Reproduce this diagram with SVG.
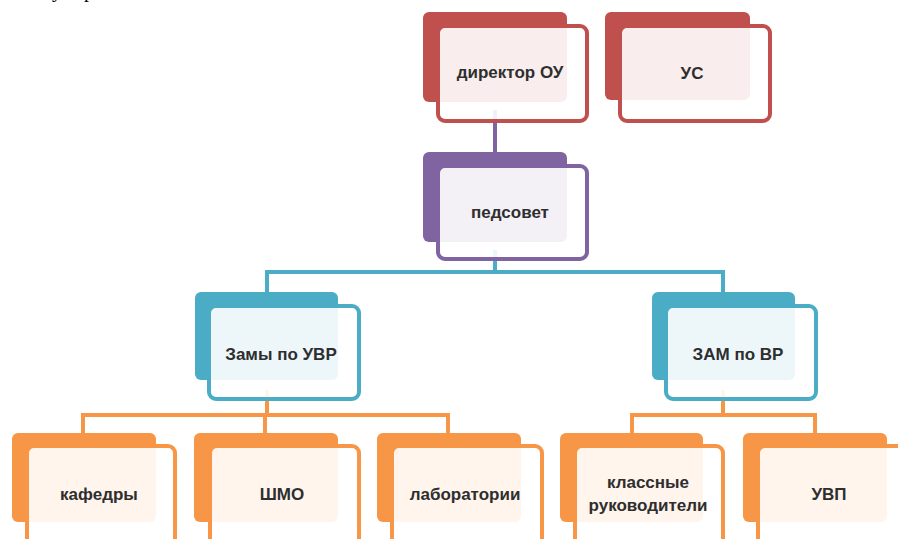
<svg xmlns="http://www.w3.org/2000/svg" width="898" height="539" viewBox="0 0 898 539">
<style>
.bg{fill:#ffffff}
.lbl{font-family:"Liberation Sans",Arial,sans-serif;font-weight:bold;font-size:17px;fill:#2e2e2e;text-anchor:middle}
.frag{font-family:"Liberation Serif","Times New Roman",serif;font-size:20px;fill:#000}
.front{fill:#ffffff;fill-opacity:0.9;stroke-width:4}
.red .back{fill:#C0504D}.red .front{stroke:#C0504D}
.pur .back{fill:#8064A2}.pur .front{stroke:#8064A2}
.blu .back{fill:#4BACC6}.blu .front{stroke:#4BACC6}
.org .back{fill:#F79646}.org .front{stroke:#F79646}
.con{fill:none;stroke-width:4}
</style>
<rect class="bg" x="0" y="0" width="898" height="539"/>
<text class="frag" x="52" y="-3">у</text>
<text class="frag" x="84" y="-3">р</text>
<g id="connectors">
  <path class="con" stroke="#8064A2" d="M495 110 V166"/>
  <path class="con" stroke="#4BACC6" d="M495 250 V272 M265 272 H723 M267 270 V294 M723 270 V294"/>
  <path class="con" stroke="#F79646" d="M267 390 V415 M83 415 H450 M83 413 V435 M265 413 V435 M448 413 V435"/>
  <path class="con" stroke="#F79646" d="M723 390 V415 M632 415 H815 M632 413 V435 M815 413 V435"/>
</g>
<g id="director" class="red">
  <rect class="back" x="423" y="12" width="144" height="90" rx="6"/>
  <rect class="front" x="438" y="26" width="149" height="95" rx="7"/>
  <text class="lbl" x="510" y="78">директор ОУ</text>
</g>
<g id="us" class="red">
  <rect class="back" x="605" y="12" width="145" height="88" rx="6"/>
  <rect class="front" x="620" y="26" width="150" height="95" rx="7"/>
  <text class="lbl" x="692" y="79">УС</text>
</g>
<g id="pedsovet" class="pur">
  <rect class="back" x="423" y="152" width="144" height="90" rx="6"/>
  <rect class="front" x="438" y="166" width="149" height="93" rx="7"/>
  <text class="lbl" x="510" y="218">педсовет</text>
</g>
<g id="zam_uvr" class="blu">
  <rect class="back" x="195" y="292" width="143" height="88" rx="6"/>
  <rect class="front" x="209" y="306" width="150" height="93" rx="7"/>
  <text class="lbl" x="281" y="360">Замы по УВР</text>
</g>
<g id="zam_vr" class="blu">
  <rect class="back" x="652" y="292" width="143" height="88" rx="6"/>
  <rect class="front" x="666" y="306" width="150" height="93" rx="7"/>
  <text class="lbl" x="738" y="360">ЗАМ по ВР</text>
</g>
<g id="kafedry" class="org">
  <rect class="back" x="12" y="433" width="144" height="89" rx="6"/>
  <rect class="front" x="27" y="446" width="148" height="100" rx="7"/>
  <text class="lbl" x="99" y="500">кафедры</text>
</g>
<g id="shmo" class="org">
  <rect class="back" x="194" y="433" width="144" height="89" rx="6"/>
  <rect class="front" x="210" y="446" width="149" height="100" rx="7"/>
  <text class="lbl" x="282" y="500">ШМО</text>
</g>
<g id="labs" class="org">
  <rect class="back" x="377" y="433" width="144" height="89" rx="6"/>
  <rect class="front" x="392" y="446" width="150" height="100" rx="7"/>
  <text class="lbl" x="465" y="500">лаборатории</text>
</g>
<g id="klass" class="org">
  <rect class="back" x="560" y="433" width="143" height="89" rx="6"/>
  <rect class="front" x="575" y="446" width="148" height="100" rx="7"/>
  <text class="lbl" x="648" y="488">классные</text>
  <text class="lbl" x="648" y="511">руководители</text>
</g>
<g id="uvp" class="org">
  <rect class="back" x="743" y="433" width="144" height="89" rx="6"/>
  <rect class="front" x="758" y="446" width="150" height="100" rx="7"/>
  <text class="lbl" x="829" y="500">УВП</text>
</g>
</svg>
